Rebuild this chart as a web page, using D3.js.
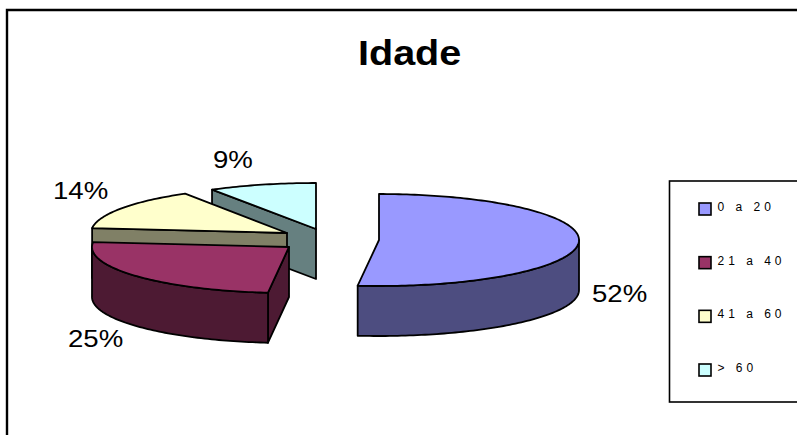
<!DOCTYPE html>
<html><head><meta charset="utf-8">
<script src="https://cdn.jsdelivr.net/npm/d3@7/dist/d3.min.js"></script>
<style>html,body{margin:0;padding:0;background:#fff}svg{display:block}text{font-family:"Liberation Sans",Arial,sans-serif;fill:#000}</style>
</head><body><svg id="c" width="797" height="435"></svg>
<script>
const title = "Idade";
const categories = ["0 a 20", "21 a 40", "41 a 60", "> 60"];
const values = [51.7, 25, 14.6, 8.7];
const labels = ["52%", "25%", "14%", "9%"];
const topColors = ["#9999FF", "#993366", "#FFFFCC", "#CCFFFF"];
const sideColors = ["#4D4D80", "#4D1A33", "#808066", "#668080"];

// layout (not data)
const W = 797, H = 435, ry = 46, depth = 50;
const rxs = [200, 197, 196, 200];
const apex = [[379,240],[289,247],[287,233],[316,229]];
const labelPos = [[592,302],[68,347],[53,199],[213,168]];
const labelStretch = 1.2;

const svg = d3.select("#c");
svg.append("rect").attr("width",W).attr("height",H).attr("fill","#fff");
svg.append("path").attr("d",`M7,${H+5}V10H${W+5}`).attr("fill","none").attr("stroke","#000").attr("stroke-width",2.4);

const arcs = d3.pie().sort(null).value(d=>d)(values);
const px = d3.scaleLinear().domain([-1,1]);
const py = d3.scaleLinear().domain([-1,1]);
const line = d3.line();

function pt(i,a,dz){
  px.range([apex[i][0]-rxs[i], apex[i][0]+rxs[i]]);
  py.range([apex[i][1]-ry, apex[i][1]+ry]);
  return [px(Math.sin(a)), py(-Math.cos(a))+(dz||0)];
}
function sample(a0,a1){
  const n = Math.max(2,Math.ceil(Math.abs(a1-a0)/0.02));
  return d3.range(n+1).map(k=>a0+(a1-a0)*k/n);
}
function style(sel,fill){return sel.attr("fill",fill).attr("stroke","#000").attr("stroke-width",1.8).attr("stroke-linejoin","round");}

// back to front
[3,2,1,0].forEach(i=>{
  const d = arcs[i], a0=d.startAngle, a1=d.endAngle, c=apex[i];
  const g = svg.append("g");
  // cut face at the slice start, seen from the front on all but the first slice
  if(i>0){
    const p = pt(i,a0);
    style(g.append("path"),sideColors[i]).attr("d",line([c,p,[p[0],p[1]+depth],[c[0],c[1]+depth]])+"Z");
  }
  // outer wall: the part of the rim facing the viewer
  const lo=Math.max(a0,Math.PI/2), hi=Math.min(a1,3*Math.PI/2);
  if(hi>lo){
    const as=sample(lo,hi);
    const upper=as.map(a=>pt(i,a)), lower=as.map(a=>pt(i,a,depth)).reverse();
    style(g.append("path"),sideColors[i]).attr("d",line(upper.concat(lower))+"Z");
  }
  // top face
  const rim=sample(a0,a1).map(a=>pt(i,a));
  style(g.append("path"),topColors[i]).attr("d",line([c].concat(rim))+"Z");
});

// data labels
labels.forEach((t,i)=>{
  svg.append("text").attr("transform",`translate(${labelPos[i][0]},${labelPos[i][1]}) scale(${labelStretch},1)`)
    .attr("font-size",23).text(t);
});
// title
svg.append("text").attr("transform","translate(358,65) scale(1.13,1)").attr("font-size",35).attr("font-weight","bold").text(title);

// legend
svg.append("rect").attr("x",669.5).attr("y",181).attr("width",W).attr("height",221).attr("fill","#fff").attr("stroke","#000").attr("stroke-width",1.6);
const legendY = d3.scalePoint().domain(categories).range([211,372]);
categories.forEach((t,i)=>{
  const y=legendY(t);
  svg.append("rect").attr("x",699).attr("y",y-8).attr("width",12).attr("height",12).attr("fill",topColors[i]).attr("stroke","#000").attr("stroke-width",1.6);
  svg.append("text").attr("x",717.5).attr("y",y).attr("font-size",12).attr("letter-spacing",4).attr("fill","#222").text(t);
});
</script></body></html>
